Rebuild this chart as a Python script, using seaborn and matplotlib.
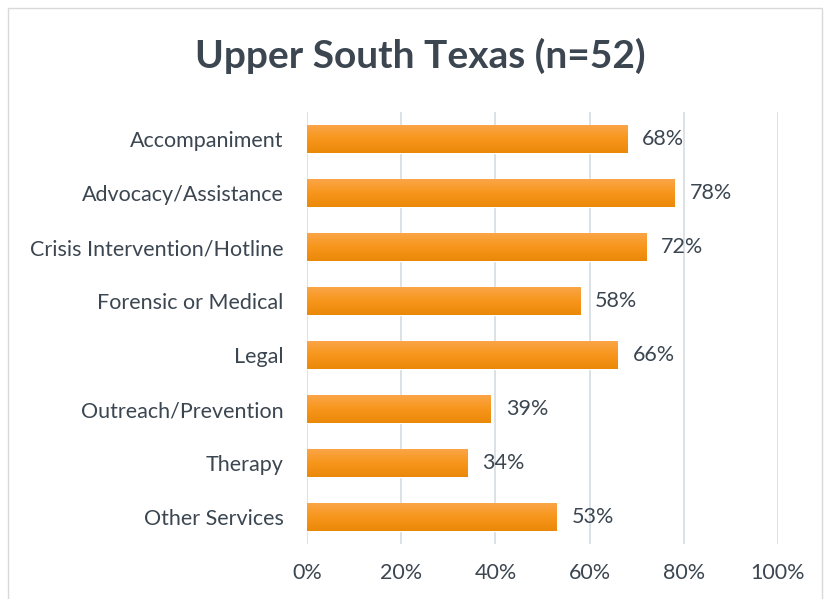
import numpy as np
import pandas as pd
import matplotlib.pyplot as plt
import seaborn as sns
from matplotlib.colors import LinearSegmentedColormap
from matplotlib.patches import Rectangle
from matplotlib.ticker import PercentFormatter

services = ["Accompaniment", "Advocacy/Assistance", "Crisis Intervention/Hotline",
            "Forensic or Medical", "Legal", "Outreach/Prevention", "Therapy", "Other Services"]
percent = [68, 78, 72, 58, 66, 39, 34, 53]
x_ticks = [0, 20, 40, 60, 80, 100]

TEXT = "#3b4651"
BAR = "#f7961f"

sns.set_theme(style="white")
plt.rcParams["font.family"] = ["Lato", "DejaVu Sans"]

data = pd.DataFrame({"service": services, "pct": percent})

fig = plt.figure(figsize=(8.25, 5.99), dpi=100)
ax = fig.add_axes([307 / 825, 1 - 544 / 599, 471 / 825, 432 / 599])

sns.barplot(data=data, x="pct", y="service", color=BAR, saturation=1, width=0.52, ax=ax, zorder=3)

# excel-like vertical gradient on each bar
grad = LinearSegmentedColormap.from_list("bar", ["#fba64a", "#f7961c", "#ea8808"])
ramp = np.linspace(0, 1, 64).reshape(-1, 1)
for bar in ax.patches:
    x0, y0, w, h = bar.get_x(), bar.get_y(), bar.get_width(), bar.get_height()
    im = ax.imshow(ramp, cmap=grad, aspect="auto", extent=(x0, x0 + w, y0 + h, y0),
                   origin="upper", zorder=4)
    im.set_clip_path(bar)

for bar, v in zip(ax.patches, percent):
    ax.text(v + 3.2, bar.get_y() + bar.get_height() / 2, f"{v}%", va="center", ha="left",
            fontsize=15.5, color=TEXT)

ax.set_xlim(0, 100)
ax.set_ylim(7.5, -0.5)
ax.set_xticks(x_ticks)
ax.xaxis.set_major_formatter(PercentFormatter(decimals=0))
ax.grid(axis="x", color="#d9dee3", linewidth=1.3, zorder=0)
ax.set_xlabel("")
ax.set_ylabel("")
ax.tick_params(axis="y", length=0, pad=17, labelsize=15.5, labelcolor=TEXT)
ax.tick_params(axis="x", length=0, pad=14, labelsize=15.5, labelcolor=TEXT)
for s in ax.spines.values():
    s.set_visible(False)

fig.text(420 / 825, 1 - 56 / 599, "Upper South Texas (n=52)", ha="center", va="center",
         fontsize=28, fontweight="bold", color=TEXT)

fig.patches.append(Rectangle((8 / 825, -0.05), 814 / 825, 1.05 - 8 / 599, transform=fig.transFigure,
                             fill=False, edgecolor="#d9d9d9", linewidth=1))

fig.savefig("out.png", dpi=100)
